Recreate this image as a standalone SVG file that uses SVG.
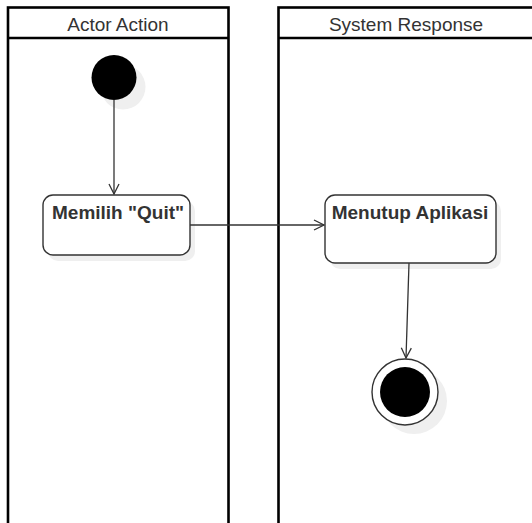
<svg xmlns="http://www.w3.org/2000/svg" width="532" height="523" viewBox="0 0 532 523">
  <style>
    .lane { fill: #ffffff; stroke: #000000; stroke-width: 2.6; }
    .lane-title { font-family: "Liberation Sans", Arial, sans-serif; font-size: 19px; fill: #333333; text-anchor: middle; }
    .action { fill: #ffffff; stroke: #333333; stroke-width: 1.4; }
    .shadow { fill: #efefef; }
    .label { font-family: "Liberation Sans", Arial, sans-serif; font-weight: bold; font-size: 19px; fill: #333333; text-anchor: middle; }
    .edge { fill: none; stroke: #333333; stroke-width: 1.3; }
  </style>
  <defs>
    <marker id="open-arrow" viewBox="0 0 12 12" refX="11" refY="6" markerWidth="12" markerHeight="12" markerUnits="userSpaceOnUse" orient="auto">
      <path d="M1,1 L11,6 L1,11" fill="none" stroke="#333333" stroke-width="1.3"/>
    </marker>
  </defs>
  <rect width="532" height="523" fill="#ffffff"/>

  <!-- swimlanes -->
  <g id="lane-actor">
    <rect class="lane" x="8" y="7.5" width="220.5" height="530"/>
    <line x1="8" y1="38" x2="228.5" y2="38" stroke="#000" stroke-width="2.6"/>
    <text class="lane-title" x="118" y="30.5">Actor Action</text>
  </g>
  <g id="lane-system">
    <rect class="lane" x="278.5" y="7.5" width="256" height="530"/>
    <line x1="278.5" y1="38" x2="534.5" y2="38" stroke="#000" stroke-width="2.6"/>
    <text class="lane-title" x="406" y="30.5">System Response</text>
  </g>

  <!-- start -->
  <g id="start">
    <circle class="shadow" cx="123" cy="87" r="22.5"/>
    <circle cx="114" cy="77.5" r="22.5" fill="#000000"/>
  </g>

  <!-- actions -->
  <g id="memilih-quit">
    <rect class="shadow" x="48" y="201" width="147" height="60" rx="10"/>
    <rect class="action" x="43" y="195" width="147" height="60" rx="10"/>
    <text class="label" x="118" y="218.5">Memilih "Quit"</text>
  </g>
  <g id="menutup-aplikasi">
    <rect class="shadow" x="330" y="201" width="171" height="68" rx="10"/>
    <rect class="action" x="325" y="195" width="171" height="68" rx="10"/>
    <text class="label" x="410" y="218.5">Menutup Aplikasi</text>
  </g>

  <!-- end -->
  <g id="end">
    <circle class="shadow" cx="414" cy="401" r="33"/>
    <circle cx="405" cy="392" r="33" fill="#ffffff" stroke="#333333" stroke-width="1.4"/>
    <circle cx="405" cy="392" r="25" fill="#000000"/>
  </g>

  <!-- connectors -->
  <g id="connectors">
    <line class="edge" x1="114" y1="100" x2="114" y2="194" marker-end="url(#open-arrow)"/>
    <line class="edge" x1="190" y1="225" x2="324" y2="225" marker-end="url(#open-arrow)"/>
    <line class="edge" x1="409" y1="263" x2="406" y2="358" marker-end="url(#open-arrow)"/>
  </g>
</svg>
